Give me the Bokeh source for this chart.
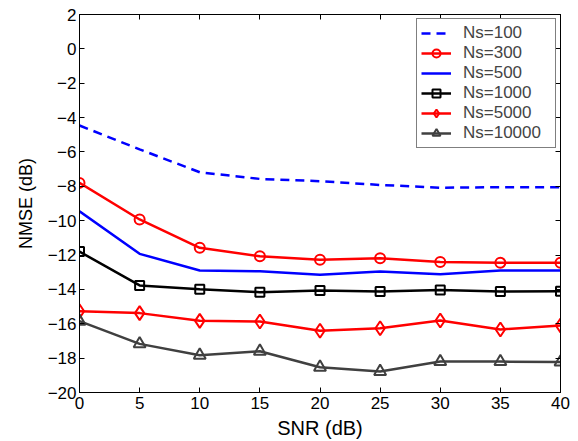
from bokeh.plotting import figure
from bokeh.models import Range1d, LinearAxis, FixedTicker, Legend, LegendItem
from bokeh.embed import file_html
from bokeh.resources import INLINE

snr = [0, 5, 10, 15, 20, 25, 30, 35, 40]
ns100 = [-4.46, -5.85, -7.18, -7.57, -7.70, -7.92, -8.08, -8.05, -8.05]
ns300 = [-7.80, -9.93, -11.58, -12.07, -12.28, -12.18, -12.41, -12.45, -12.45]
ns500 = [-9.45, -11.93, -12.90, -12.94, -13.15, -12.96, -13.12, -12.90, -12.90]
ns1000 = [-11.80, -13.77, -13.99, -14.16, -14.07, -14.12, -14.03, -14.12, -14.10]
ns5000 = [-15.27, -15.38, -15.83, -15.87, -16.41, -16.26, -15.81, -16.33, -16.10]
ns10000 = [-15.85, -17.17, -17.83, -17.60, -18.53, -18.78, -18.20, -18.20, -18.23]

labels = ["Ns=100", "Ns=300", "Ns=500", "Ns=1000", "Ns=5000", "Ns=10000"]
xticks = [0, 5, 10, 15, 20, 25, 30, 35, 40]
yticks = [2, 0, -2, -4, -6, -8, -10, -12, -14, -16, -18, -20]
ytick_labels = ["2", "0", "\u22122", "\u22124", "\u22126", "\u22128", "\u221210",
                "\u221212", "\u221214", "\u221216", "\u221218", "\u221220"]

FONT = "Liberation Sans"
RED = "#ff0000"
BLUE = "#0000ff"
BLACK = "#000000"
GRAY = "#404040"

p = figure(width=578, height=441, output_backend="svg", toolbar_location=None,
           x_range=Range1d(0, 40), y_range=Range1d(-20, 2),
           min_border_left=79, min_border_right=18, min_border_top=14, min_border_bottom=49)
p.xgrid.visible = False
p.ygrid.visible = False
p.outline_line_color = "black"
p.outline_line_width = 1
p.background_fill_color = "white"
p.border_fill_color = "white"

def style_axis(ax):
    ax.axis_line_color = "black"
    ax.major_tick_in = 5
    ax.major_tick_out = 0
    ax.minor_tick_in = 0
    ax.minor_tick_out = 0
    ax.major_label_text_font = FONT
    ax.major_label_text_font_size = "17px"
    ax.major_label_text_color = "black"
    ax.axis_label_text_font = FONT
    ax.axis_label_text_font_style = "normal"
    ax.axis_label_text_color = "black"

p.xaxis.ticker = FixedTicker(ticks=xticks)
p.yaxis.ticker = FixedTicker(ticks=yticks)
p.yaxis.major_label_overrides = {t: l for t, l in zip(yticks, ytick_labels)}
p.xaxis.axis_label = "SNR (dB)"
p.yaxis.axis_label = "NMSE (dB)"
style_axis(p.xaxis[0])
style_axis(p.yaxis[0])
p.xaxis.axis_label_text_font_size = "20px"
p.yaxis.axis_label_text_font_size = "18px"
p.xaxis.major_label_standoff = 4
p.yaxis.major_label_standoff = 3
p.xaxis.axis_label_standoff = 5
p.yaxis.axis_label_standoff = 9

top = LinearAxis(ticker=FixedTicker(ticks=xticks),
                 major_label_overrides={t: "" for t in xticks})
right = LinearAxis(ticker=FixedTicker(ticks=yticks),
                   major_label_overrides={t: "" for t in yticks})
for ax in (top, right):
    ax.axis_line_color = "black"
    ax.major_tick_in = 5
    ax.major_tick_out = 0
    ax.minor_tick_in = 0
    ax.minor_tick_out = 0
    ax.major_label_standoff = 0
p.add_layout(top, "above")
p.add_layout(right, "right")

lw = 2.5
items = []
r = p.line(snr, ns100, line_color=BLUE, line_width=lw, line_dash="9 6")
items.append(LegendItem(label=labels[0], renderers=[r]))

r1 = p.line(snr, ns300, line_color=RED, line_width=lw)
r2 = p.scatter(snr, ns300, marker="circle", size=10, line_color=RED, line_width=2, fill_color=None)
items.append(LegendItem(label=labels[1], renderers=[r1, r2]))

r = p.line(snr, ns500, line_color=BLUE, line_width=lw)
items.append(LegendItem(label=labels[2], renderers=[r]))

r1 = p.line(snr, ns1000, line_color=BLACK, line_width=lw)
r2 = p.scatter(snr, ns1000, marker="square", size=9, line_color=BLACK, line_width=2, fill_color=None)
items.append(LegendItem(label=labels[3], renderers=[r1, r2]))

r1 = p.line(snr, ns5000, line_color=RED, line_width=lw)
r2 = p.scatter(snr, ns5000, marker="diamond", size=14, line_color=RED, line_width=2, fill_color=None)
items.append(LegendItem(label=labels[4], renderers=[r1, r2]))

r1 = p.line(snr, ns10000, line_color=GRAY, line_width=lw)
r2 = p.scatter(snr, ns10000, marker="triangle", size=12, line_color=GRAY, line_width=2, fill_color=None)
items.append(LegendItem(label=labels[5], renderers=[r1, r2]))

legend = Legend(items=items, location="top_right")
legend.margin = 4
legend.padding = 4
legend.spacing = 0
legend.glyph_width = 30
legend.glyph_height = 20
legend.label_height = 20
legend.label_width = 88
legend.label_standoff = 12
legend.label_text_font = FONT
legend.label_text_font_size = "17px"
legend.border_line_color = "black"
legend.border_line_width = 1
legend.background_fill_color = "white"
legend.background_fill_alpha = 1
p.add_layout(legend, "center")

open("out.html", "w").write(file_html(p, INLINE))
